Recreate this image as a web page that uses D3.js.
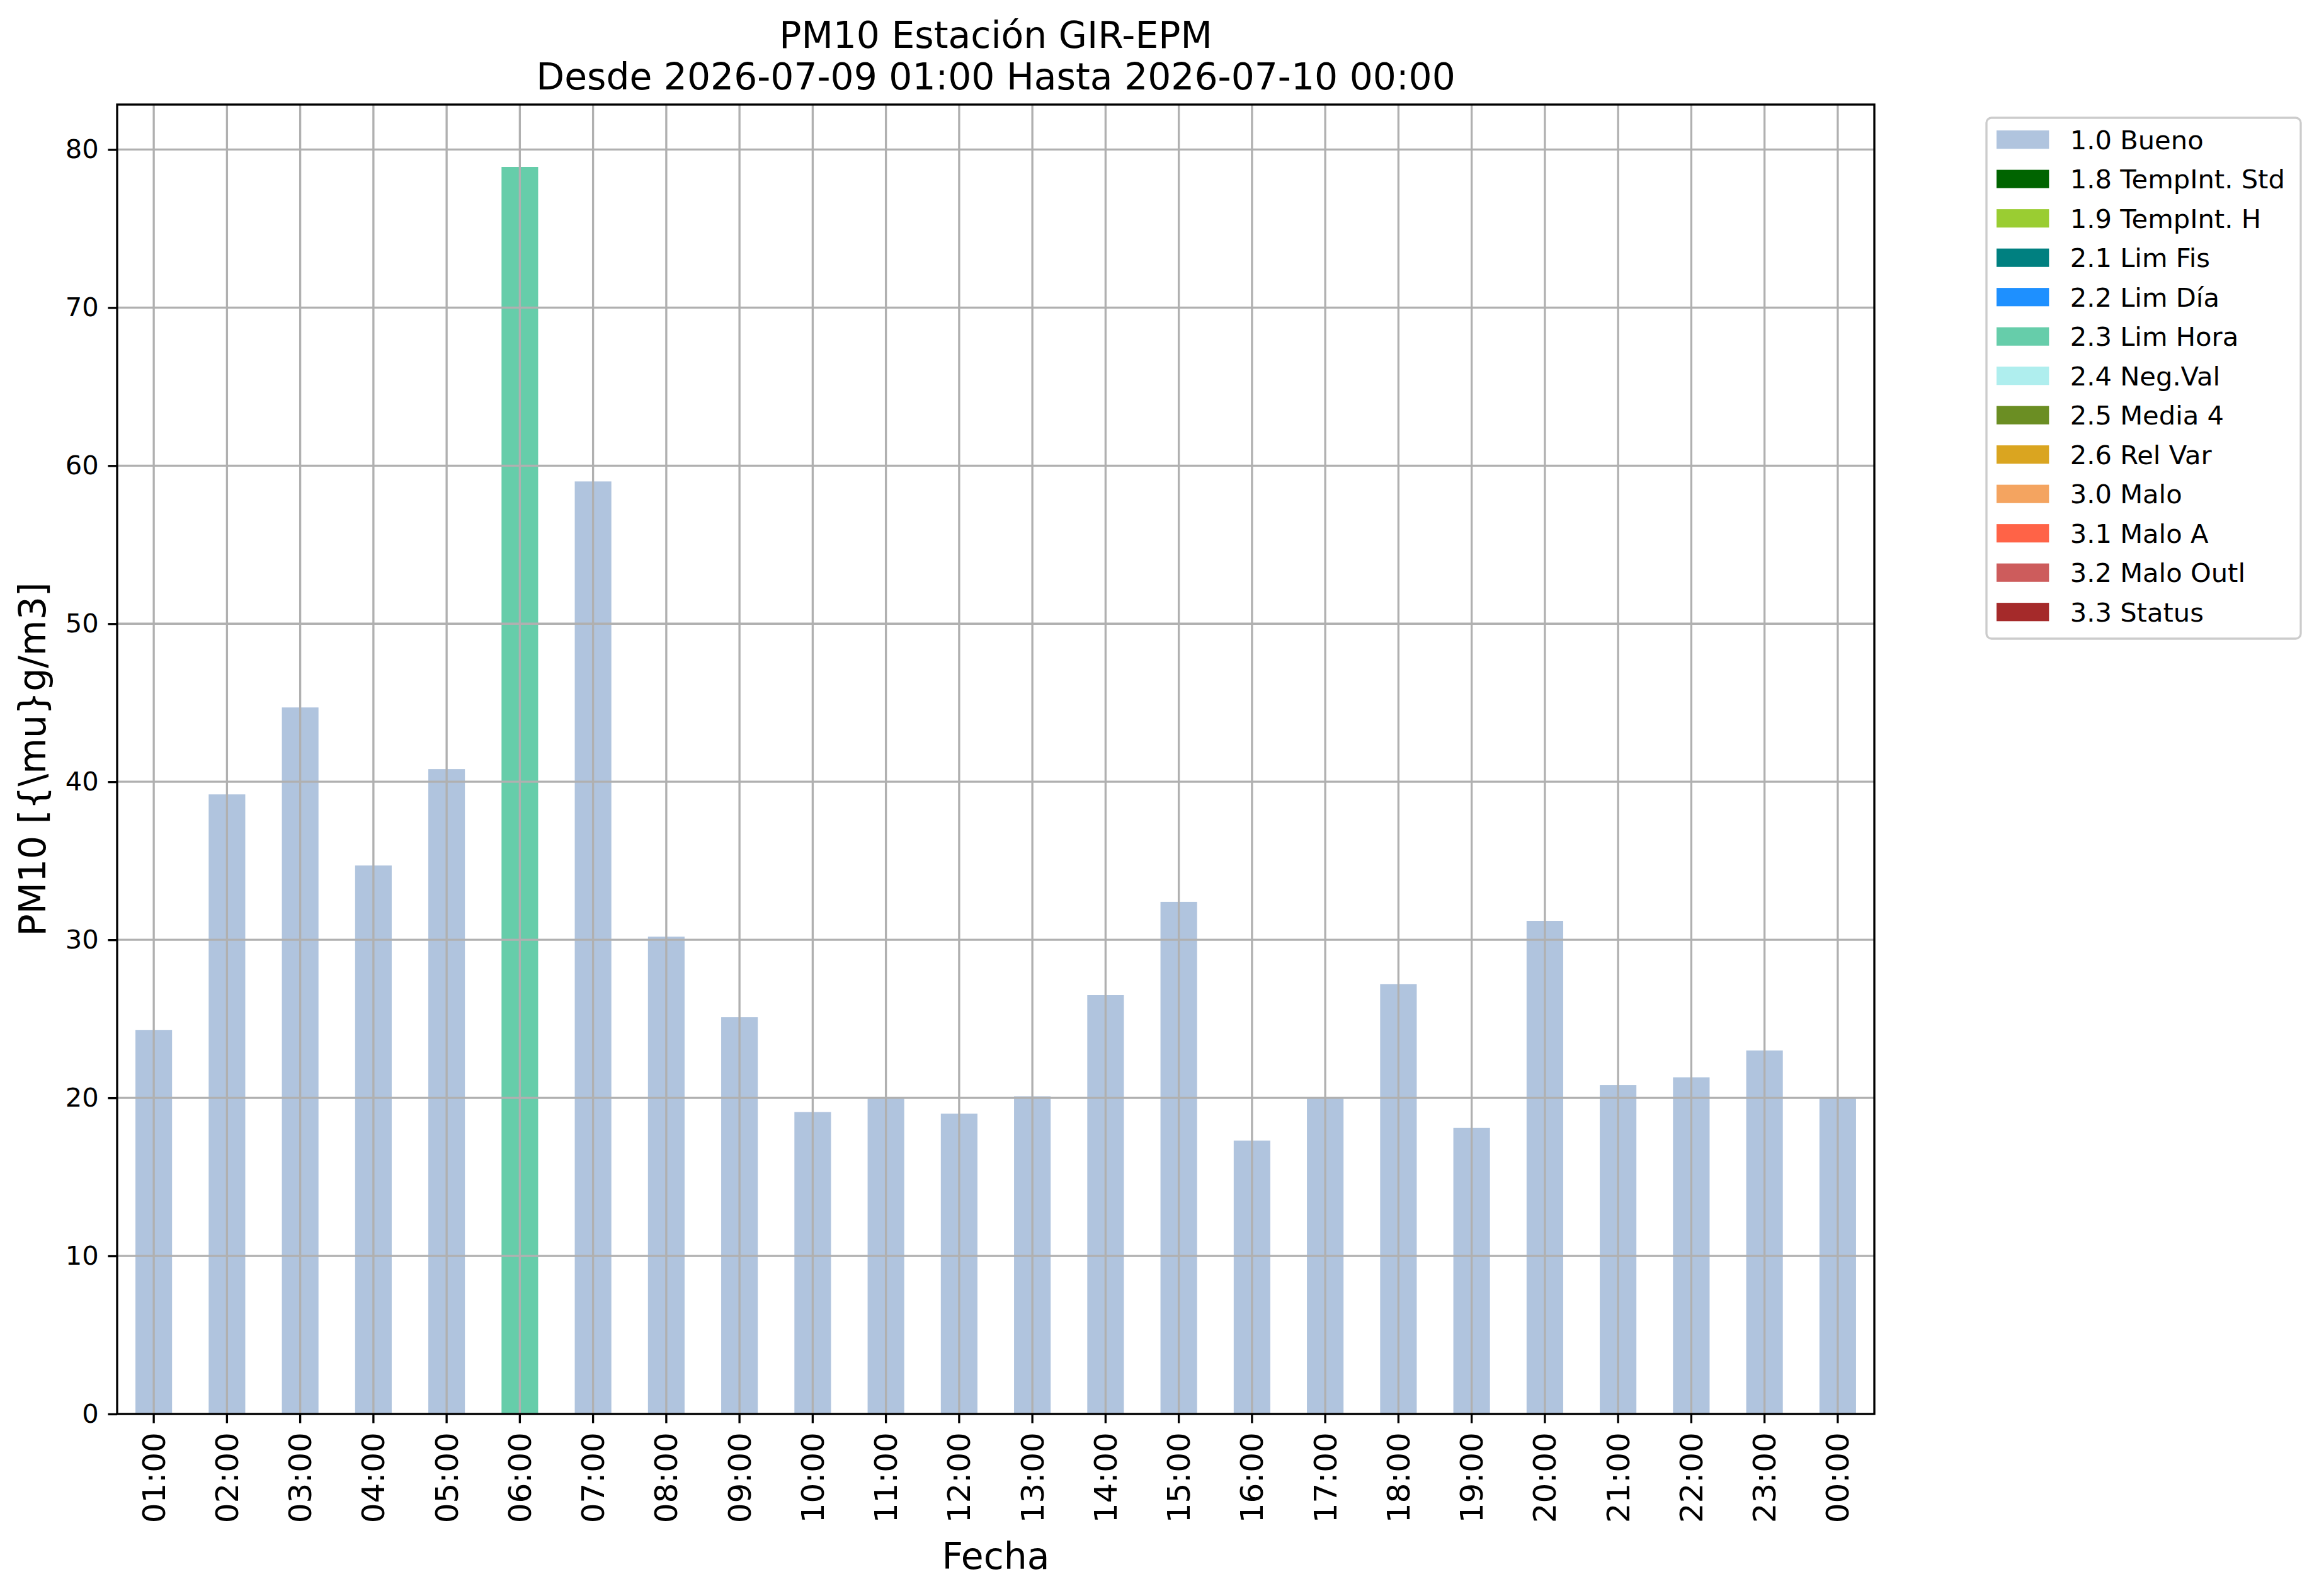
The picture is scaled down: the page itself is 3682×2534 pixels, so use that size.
<!DOCTYPE html>
<html>
<head>
<meta charset="utf-8">
<script src="https://cdn.jsdelivr.net/npm/d3@7"></script>
<style>
  body { margin: 0; background: #fff; }
  text { font-family: "DejaVu Sans", sans-serif; fill: #000; }
</style>
</head>
<body>
<div id="chart"></div>
<script>
    const width = 3682, height = 2534;

    // datos
    const horas = ["01:00","02:00","03:00","04:00","05:00","06:00","07:00","08:00","09:00","10:00","11:00","12:00",
                   "13:00","14:00","15:00","16:00","17:00","18:00","19:00","20:00","21:00","22:00","23:00","00:00"];
    const valores = [24.3, 39.2, 44.7, 34.7, 40.8, 78.9, 59.0, 30.2, 25.1, 19.1, 20.0, 19.0,
                     20.1, 26.5, 32.4, 17.3, 20.0, 27.2, 18.1, 31.2, 20.8, 21.3, 23.0, 20.0];
    const banderas = ["1.0","1.0","1.0","1.0","1.0","2.3","1.0","1.0","1.0","1.0","1.0","1.0",
                      "1.0","1.0","1.0","1.0","1.0","1.0","1.0","1.0","1.0","1.0","1.0","1.0"];

    const codigos = ["1.0","1.8","1.9","2.1","2.2","2.3","2.4","2.5","2.6","3.0","3.1","3.2","3.3"];
    const etiquetas = ["1.0 Bueno","1.8 TempInt. Std","1.9 TempInt. H","2.1 Lim Fis","2.2 Lim Día","2.3 Lim Hora",
                       "2.4 Neg.Val","2.5 Media 4","2.6 Rel Var","3.0 Malo","3.1 Malo A","3.2 Malo Outl","3.3 Status"];
    const colores = ["#b0c4de","#006400","#9acd32","#008080","#1e90ff","#66cdaa",
                     "#afeeee","#6b8e23","#daa520","#f4a460","#ff6347","#cd5c5c","#a52a2a"];
    const yTicks = [0, 10, 20, 30, 40, 50, 60, 70, 80];

    const pt = 300 / 72; // 1pt en px
    const m = { left: 186, top: 166, right: 2976, bottom: 2245 };
    const iw = m.right - m.left, ih = m.bottom - m.top;

    const svg = d3.select("#chart").append("svg")
        .attr("width", width)
        .attr("height", height);
    svg.append("rect").attr("width", width).attr("height", height).attr("fill", "#fff");

    const g = svg.append("g").attr("transform", `translate(${m.left},${m.top})`);

    const x = d3.scaleBand().domain(horas).range([0, iw]).paddingInner(0.5).paddingOuter(0.25);
    const y = d3.scaleLinear().domain([0, d3.max(valores) * 1.05]).range([ih, 0]);
    const color = d3.scaleOrdinal().domain(codigos).range(colores);

    // barras
    g.selectAll(".bar")
        .data(horas)
        .enter().append("rect")
        .attr("class", "bar")
        .attr("x", d => x(d))
        .attr("width", x.bandwidth())
        .attr("y", (d, i) => y(valores[i]))
        .attr("height", (d, i) => y(0) - y(valores[i]))
        .attr("fill", (d, i) => color(banderas[i]));

    // rejilla (encima de las barras, como matplotlib)
    const grid = g.append("g").attr("stroke", "#b0b0b0").attr("stroke-width", 0.8 * pt);
    grid.selectAll(".gx").data(horas).enter().append("line")
        .attr("x1", d => x(d) + x.bandwidth() / 2).attr("x2", d => x(d) + x.bandwidth() / 2)
        .attr("y1", 0).attr("y2", ih);
    grid.selectAll(".gy").data(yTicks).enter().append("line")
        .attr("x1", 0).attr("x2", iw)
        .attr("y1", d => y(d)).attr("y2", d => y(d));

    // ejes
    const xAxis = g.append("g")
        .attr("transform", `translate(0,${ih})`)
        .call(d3.axisBottom(x).tickSize(3.5 * pt).tickPadding(3.5 * pt));
    xAxis.select(".domain").remove();
    xAxis.selectAll(".tick line").attr("stroke", "#000").attr("stroke-width", 0.8 * pt);
    xAxis.selectAll(".tick text")
        .attr("font-size", 12 * pt)
        .attr("transform", "rotate(-90)")
        .attr("text-anchor", "end")
        .attr("x", -(3.5 * pt + 3.5 * pt))
        .attr("y", 0)
        .attr("dy", "0.35em");

    const yAxis = g.append("g")
        .call(d3.axisLeft(y).tickValues(yTicks).tickSize(3.5 * pt).tickPadding(3.5 * pt));
    yAxis.select(".domain").remove();
    yAxis.selectAll(".tick line").attr("stroke", "#000").attr("stroke-width", 0.8 * pt);
    yAxis.selectAll(".tick text").attr("font-size", 10 * pt).attr("font-family", "DejaVu Sans");
    xAxis.selectAll(".tick text").attr("font-family", "DejaVu Sans");

    // marco
    g.append("rect")
        .attr("width", iw).attr("height", ih)
        .attr("fill", "none").attr("stroke", "#000").attr("stroke-width", 0.8 * pt);

    // títulos
    const cx = m.left + iw / 2;
    svg.append("text").attr("x", cx).attr("y", 76).attr("text-anchor", "middle")
        .attr("font-size", 14 * pt).text("PM10 Estación GIR-EPM");
    svg.append("text").attr("x", cx).attr("y", 142).attr("text-anchor", "middle")
        .attr("font-size", 14 * pt).text("Desde 2026-07-09 01:00 Hasta 2026-07-10 00:00");
    svg.append("text").attr("x", cx).attr("y", 2491).attr("text-anchor", "middle")
        .attr("font-size", 14 * pt).text("Fecha");
    svg.append("text")
        .attr("transform", `translate(72,${m.top + ih / 2}) rotate(-90)`)
        .attr("text-anchor", "middle")
        .attr("font-size", 14 * pt).text("PM10 [{\\mu}g/m3]");

    // leyenda
    const fs = 10 * pt;
    const leg = svg.append("g");
    leg.append("rect")
        .attr("x", 3154).attr("y", 187).attr("width", 3653 - 3154).attr("height", 1014 - 187)
        .attr("rx", 8).attr("fill", "#fff").attr("fill-opacity", 0.8)
        .attr("stroke", "#cccccc").attr("stroke-width", 0.8 * pt);
    const item = leg.selectAll(".item").data(codigos).enter().append("g")
        .attr("transform", (d, i) => `translate(3170,${221.7 + i * 1.5 * fs})`);
    item.append("rect")
        .attr("x", 0).attr("y", -0.35 * fs).attr("width", 2 * fs).attr("height", 0.7 * fs)
        .attr("fill", d => color(d));
    item.append("text")
        .attr("x", 2.8 * fs).attr("dy", "0.36em")
        .attr("font-size", fs)
        .text((d, i) => etiquetas[i]);
</script>
</body>
</html>
